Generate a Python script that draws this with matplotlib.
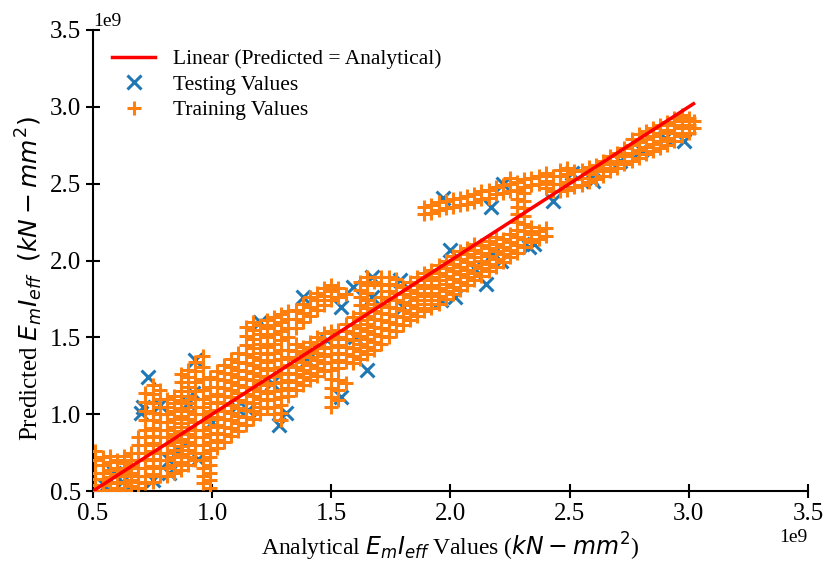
import numpy as np
import matplotlib
matplotlib.use("Agg")
import matplotlib.pyplot as plt
from matplotlib.lines import Line2D

plt.rcParams["font.family"] = ["Liberation Serif", "DejaVu Serif"]
plt.rcParams["mathtext.fontset"] = "dejavusans"

# Training values (units of 1e9), columns: (analytical x, [predicted y ...])
train_low = [
    (0.51, [0.50, 0.54, 0.58, 0.62, 0.70, 0.76]),
    (0.54, [0.50, 0.54, 0.58, 0.62, 0.67, 0.72]),
    (0.57, [0.51, 0.55, 0.59, 0.64, 0.69, 0.73]),
    (0.60, [0.52, 0.56, 0.61, 0.65, 0.70]),
    (0.63, [0.51, 0.55, 0.60, 0.64, 0.68, 0.73]),
    (0.66, [0.53, 0.57, 0.62, 0.66, 0.70, 0.75]),
    (0.69, [0.52, 0.56, 0.60, 0.65, 0.70, 0.75, 0.80, 0.85]),
    (0.72, [0.55, 0.60, 0.65, 0.70, 0.75, 0.80, 0.85, 0.90, 0.96, 1.02, 1.08, 1.14]),
    (0.75, [0.56, 0.61, 0.66, 0.71, 0.76, 0.81, 0.86, 0.91, 0.96, 1.01, 1.07, 1.13, 1.19]),
    (0.78, [0.60, 0.65, 0.70, 0.75, 0.80, 0.85, 0.90, 0.95, 1.00, 1.05, 1.10, 1.16]),
    (0.81, [0.60, 0.65, 0.70, 0.75, 0.80, 0.85, 0.90, 0.95, 1.00, 1.05, 1.10]),
    (0.84, [0.62, 0.67, 0.72, 0.77, 0.82, 0.87, 0.92, 0.97, 1.02, 1.07, 1.12]),
    (0.87, [0.64, 0.69, 0.74, 0.79, 0.84, 0.89, 0.94, 0.99, 1.04, 1.09, 1.15, 1.21, 1.26]),
    (0.90, [0.67, 0.72, 0.77, 0.82, 0.87, 0.92, 0.97, 1.02, 1.07, 1.12, 1.18, 1.24, 1.29]),
    (0.93, [0.70, 0.75, 0.80, 0.85, 0.90, 0.95, 1.00, 1.05, 1.10, 1.15, 1.21, 1.28, 1.34]),
    (0.96, [0.55, 0.60, 0.65, 0.70, 0.75, 0.80, 0.85, 0.90, 0.95, 1.00, 1.05, 1.10,
            1.16, 1.23, 1.31, 1.38]),
    (0.99, [0.52, 0.57, 0.62, 0.67, 0.72, 0.77, 0.82, 0.87, 0.92, 0.97, 1.02, 1.07,
            1.12, 1.18, 1.24]),
]

train_mid = [
    (1.02, [0.78, 0.83, 0.88, 0.93, 0.98, 1.03, 1.08, 1.13, 1.18, 1.23, 1.28]),
    (1.05, [0.82, 0.87, 0.92, 0.97, 1.02, 1.07, 1.12, 1.17, 1.22, 1.27, 1.32]),
    (1.08, [0.86, 0.91, 0.96, 1.01, 1.06, 1.11, 1.16, 1.21, 1.26, 1.31, 1.36]),
    (1.11, [0.89, 0.94, 0.99, 1.04, 1.09, 1.14, 1.19, 1.24, 1.29, 1.34, 1.40]),
    (1.14, [0.93, 0.98, 1.03, 1.08, 1.13, 1.18, 1.23, 1.28, 1.33, 1.39, 1.45, 1.51, 1.57]),
    (1.17, [0.97, 1.02, 1.07, 1.12, 1.17, 1.22, 1.27, 1.32, 1.37, 1.43, 1.49, 1.55, 1.60]),
    (1.20, [1.00, 1.05, 1.10, 1.15, 1.20, 1.25, 1.30, 1.35, 1.40, 1.46, 1.52, 1.58]),
    (1.23, [1.04, 1.09, 1.14, 1.19, 1.24, 1.29, 1.34, 1.39, 1.44, 1.50, 1.56, 1.61]),
    (1.26, [1.00, 1.05, 1.10, 1.15, 1.20, 1.25, 1.30, 1.35, 1.40, 1.46, 1.52, 1.58, 1.63]),
    (1.29, [0.96, 1.01, 1.06, 1.11, 1.16, 1.21, 1.26, 1.31, 1.36, 1.42, 1.48, 1.54,
            1.60, 1.65]),
    (1.32, [1.12, 1.17, 1.22, 1.27, 1.32, 1.37, 1.42, 1.50, 1.56, 1.62, 1.67]),
    (1.35, [1.16, 1.21, 1.26, 1.31, 1.36, 1.41, 1.46, 1.56, 1.62, 1.68]),
    (1.38, [1.19, 1.24, 1.29, 1.34, 1.39, 1.44, 1.60, 1.66, 1.72]),
    (1.41, [1.22, 1.27, 1.32, 1.37, 1.42, 1.47, 1.64, 1.70, 1.76]),
    (1.44, [1.25, 1.30, 1.35, 1.40, 1.45, 1.50, 1.68, 1.74, 1.79]),
    (1.47, [1.28, 1.33, 1.38, 1.43, 1.48, 1.53, 1.71, 1.77, 1.82]),
    (1.50, [1.05, 1.11, 1.17, 1.23, 1.29, 1.34, 1.39, 1.44, 1.49, 1.54, 1.74, 1.80, 1.84]),
    (1.53, [1.09, 1.16, 1.22, 1.30, 1.35, 1.40, 1.45, 1.50, 1.55, 1.76, 1.82]),
    (1.56, [1.20, 1.34, 1.39, 1.44, 1.49, 1.54, 1.59, 1.78]),
    (1.59, [1.33, 1.38, 1.43, 1.48, 1.53, 1.58, 1.63]),
    (1.62, [1.36, 1.41, 1.46, 1.51, 1.56, 1.61, 1.66, 1.71, 1.76, 1.81, 1.86]),
    (1.65, [1.39, 1.44, 1.49, 1.54, 1.59, 1.64, 1.69, 1.74, 1.79, 1.84, 1.89]),
    (1.68, [1.42, 1.47, 1.52, 1.57, 1.62, 1.67, 1.72, 1.86]),
    (1.71, [1.46, 1.51, 1.56, 1.61, 1.66, 1.71, 1.76, 1.84, 1.89]),
    (1.74, [1.50, 1.55, 1.60, 1.65, 1.70, 1.75, 1.80, 1.85, 1.89]),
    (1.77, [1.54, 1.59, 1.64, 1.69, 1.74, 1.79, 1.84, 1.88]),
    (1.80, [1.58, 1.63, 1.68, 1.73, 1.78, 1.83]),
    (1.83, [1.61, 1.66, 1.71, 1.76, 1.81, 1.86]),
    (1.86, [1.64, 1.69, 1.74, 1.79, 1.84, 1.89]),
]

train_high = [
    (1.89, [1.67, 1.72, 1.77, 1.82, 1.87, 1.92, 2.30, 2.35]),
    (1.92, [1.69, 1.74, 1.79, 1.84, 1.89, 1.94, 2.31, 2.36]),
    (1.95, [1.72, 1.77, 1.82, 1.87, 1.92, 1.97, 2.33, 2.38]),
    (1.98, [1.75, 1.80, 1.85, 1.90, 1.95, 2.00, 2.34, 2.39]),
    (2.01, [1.78, 1.83, 1.88, 1.93, 1.98, 2.03, 2.35, 2.40]),
    (2.04, [1.81, 1.86, 1.91, 1.96, 2.01, 2.06, 2.36, 2.41]),
    (2.07, [1.84, 1.89, 1.94, 1.99, 2.04, 2.08, 2.37, 2.42]),
    (2.10, [1.87, 1.92, 1.97, 2.02, 2.07, 2.11, 2.38, 2.43]),
    (2.13, [1.90, 1.95, 2.00, 2.05, 2.10, 2.40, 2.45]),
    (2.16, [1.93, 1.98, 2.03, 2.08, 2.13, 2.41, 2.46]),
    (2.19, [1.96, 2.01, 2.06, 2.11, 2.15, 2.43, 2.48]),
    (2.22, [1.99, 2.04, 2.09, 2.14, 2.44, 2.49]),
    (2.25, [2.02, 2.07, 2.12, 2.17, 2.45, 2.50, 2.54]),
    (2.28, [2.05, 2.10, 2.15, 2.20, 2.25, 2.30, 2.35, 2.40, 2.46, 2.51]),
    (2.31, [2.09, 2.14, 2.19, 2.24, 2.29, 2.34, 2.39, 2.44, 2.48, 2.53]),
    (2.34, [2.12, 2.17, 2.22, 2.49, 2.54]),
    (2.37, [2.14, 2.19, 2.50, 2.55]),
    (2.40, [2.16, 2.21, 2.47, 2.52, 2.57]),
    (2.43, [2.45, 2.50, 2.55]),
    (2.46, [2.45, 2.50, 2.55, 2.59]),
    (2.49, [2.46, 2.51, 2.56, 2.60]),
    (2.52, [2.48, 2.53, 2.58]),
    (2.55, [2.49, 2.54, 2.59]),
    (2.58, [2.51, 2.56, 2.61]),
    (2.61, [2.53, 2.58, 2.62]),
    (2.64, [2.55, 2.60, 2.65]),
    (2.67, [2.58, 2.63, 2.68]),
    (2.70, [2.60, 2.65, 2.70]),
    (2.73, [2.63, 2.68, 2.73]),
    (2.76, [2.65, 2.70, 2.75, 2.79]),
    (2.79, [2.67, 2.72, 2.77, 2.82]),
    (2.82, [2.69, 2.74, 2.79, 2.84]),
    (2.85, [2.71, 2.76, 2.81, 2.86]),
    (2.88, [2.73, 2.78, 2.83, 2.88]),
    (2.91, [2.75, 2.80, 2.85, 2.90]),
    (2.94, [2.78, 2.83, 2.88, 2.93]),
    (2.97, [2.81, 2.86, 2.91, 2.95]),
    (3.00, [2.83, 2.88, 2.93]),
    (3.02, [2.86, 2.91]),
]

# Testing values (units of 1e9), (analytical, predicted)
test_pts = [
    (0.55, 0.53), (0.59, 0.62), (0.62, 0.56), (0.75, 0.57), (0.82, 0.62),
    (0.82, 0.70), (0.86, 0.77), (0.94, 0.71), (0.70, 1.01), (0.71, 1.05),
    (0.78, 1.06), (0.90, 1.07), (0.92, 1.14), (0.73, 1.24), (0.93, 1.35),
    (1.15, 1.03), (1.00, 0.95), (1.10, 1.05), (1.20, 1.60), (1.28, 0.93),
    (1.31, 1.01), (1.25, 1.20), (1.38, 1.76), (1.40, 1.35), (1.48, 1.48),
    (1.54, 1.70), (1.54, 1.11), (1.59, 1.83), (1.67, 1.76), (1.67, 1.89),
    (1.65, 1.29), (1.60, 1.50), (1.79, 1.87), (1.80, 1.70), (1.96, 1.74),
    (2.02, 1.76), (2.00, 2.07), (2.15, 1.85), (2.18, 2.05), (2.21, 2.00),
    (2.10, 1.95), (2.33, 2.09), (2.35, 2.11), (1.97, 2.41), (2.17, 2.35),
    (2.22, 2.50), (2.43, 2.39), (2.51, 2.57), (2.59, 2.54), (2.60, 2.52),
    (2.71, 2.65), (2.80, 2.72), (2.90, 2.80), (2.98, 2.78),
]

line_x = [0.5, 3.02]


def expand(cols):
    xs, ys = [], []
    for x, col in cols:
        for y in col:
            xs.append(x)
            ys.append(y)
    return xs, ys


def main() -> None:
    tx, ty = [], []
    for block in (train_low, train_mid, train_high):
        bx, by = expand(block)
        tx += bx
        ty += by
    tx = np.array(tx) * 1e9
    ty = np.array(ty) * 1e9
    sx = np.array([p[0] for p in test_pts]) * 1e9
    sy = np.array([p[1] for p in test_pts]) * 1e9
    lx = np.array(line_x) * 1e9

    fig = plt.figure(figsize=(8.26, 5.71), dpi=100)
    ax = fig.add_axes([0.1126, 0.140, 0.8655, 0.8075])

    ax.scatter(sx, sy, marker="x", s=100, color="#1f77b4", linewidths=2.2, zorder=2)
    ax.scatter(tx, ty, marker="+", s=100, color="#ff7f0e", linewidths=2.2, zorder=3)
    ax.plot(lx, lx, color="red", linewidth=2.5, zorder=4)

    ax.set_xlim(0.5e9, 3.5e9)
    ax.set_ylim(0.5e9, 3.5e9)
    ax.set_xticks(np.arange(0.5, 3.51, 0.5) * 1e9)
    ax.set_yticks(np.arange(0.5, 3.51, 0.5) * 1e9)
    ax.spines["top"].set_visible(False)
    ax.spines["right"].set_visible(False)
    for s in ("left", "bottom"):
        ax.spines[s].set_linewidth(1.5)
    ax.tick_params(direction="inout", length=10, width=1.5, labelsize=18)
    ax.xaxis.get_offset_text().set_fontsize(14)
    ax.yaxis.get_offset_text().set_fontsize(14)

    ax.set_xlabel(r"Analytical $E_mI_{eff}$ Values ($kN - mm^2$)", fontsize=17)
    ax.set_ylabel(r"Predicted $E_mI_{eff}$ $\ (kN - mm^2)$", fontsize=18)
    ax.yaxis.set_label_coords(-0.067, 0.46)

    handles = [
        Line2D([], [], color="red", linewidth=2.5),
        Line2D([], [], marker="x", linestyle="", color="#1f77b4",
               markersize=10, markeredgewidth=2.2),
        Line2D([], [], marker="+", linestyle="", color="#ff7f0e",
               markersize=10, markeredgewidth=2.2),
    ]
    labels = ["Linear (Predicted = Analytical)", "Testing Values", "Training Values"]
    ax.legend(handles, labels, loc="upper left", frameon=False, fontsize=15.5,
              labelspacing=0.25)

    fig.savefig("out.png", dpi=100)
    plt.close(fig)


if __name__ == "__main__":
    main()
